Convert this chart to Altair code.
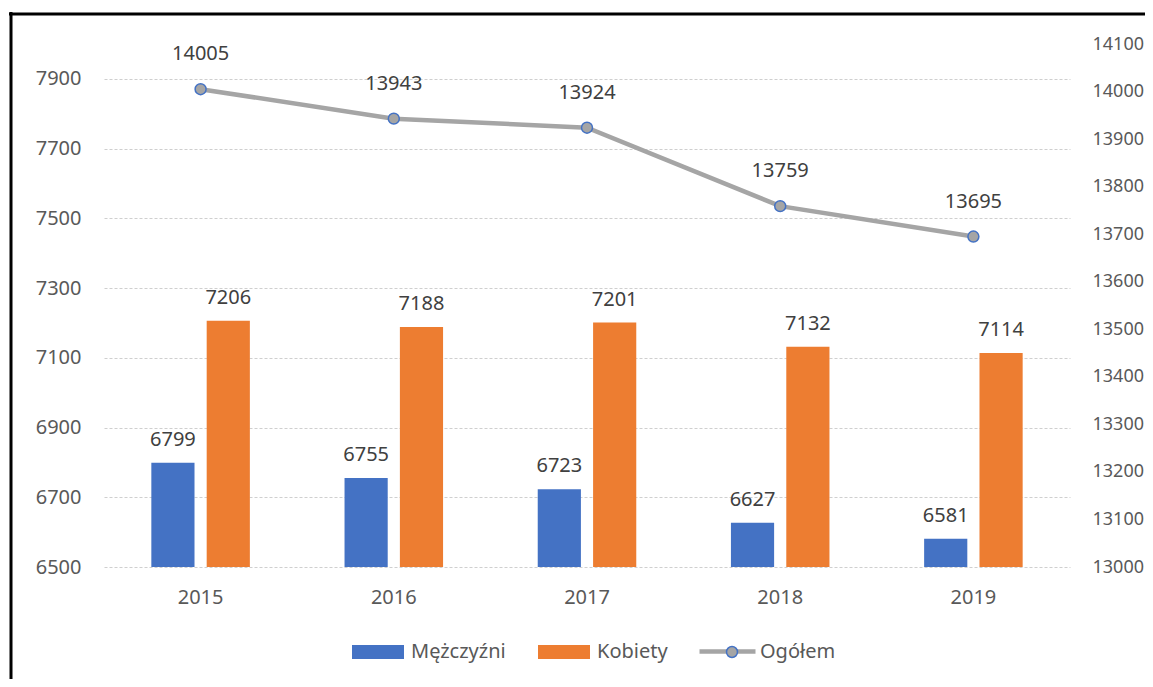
import altair as alt
import pandas as pd

years = ["2015", "2016", "2017", "2018", "2019"]
men = [6799, 6755, 6723, 6627, 6581]
women = [7206, 7188, 7201, 7132, 7114]
total = [14005, 13943, 13924, 13759, 13695]
series_names = ["Mężczyźni", "Kobiety"]
line_name = "Ogółem"
marker_key = "marker"
left_ticks = [6500, 6700, 6900, 7100, 7300, 7500, 7700, 7900]
right_ticks = [13000, 13100, 13200, 13300, 13400, 13500, 13600, 13700, 13800, 13900, 14000, 14100]

FONT = "Noto Sans"
TXT = "#595959"
LBL = "#404040"
FS = 20

bar_df = pd.DataFrame({
    "year": years * 2,
    "series": [series_names[0]] * len(years) + [series_names[1]] * len(years),
    "value": men + women,
})
line_df = pd.DataFrame({"year": years, "series": [line_name] * len(years),
                        "marker": [marker_key] * len(years), "value": total})
frame_df = pd.DataFrame({"k": [0]})

xaxis = alt.Axis(title=None, labelAngle=0, domain=False, ticks=False, labelPadding=20,
                 labelFontSize=FS, labelColor=TXT, labelFont=FONT)
xenc = alt.X("year:N", sort=years, scale=alt.Scale(paddingInner=0.49, paddingOuter=0.245), axis=xaxis)

yleft = alt.Y("value:Q", scale=alt.Scale(domain=[6500, 8000], zero=False, nice=False),
              axis=alt.Axis(title=None, values=left_ticks, format="d", grid=True, gridColor="#cfcfcf",
                            gridDash=[3, 2], gridWidth=1, domain=False, ticks=False,
                            labelPadding=23, labelFontSize=FS, labelColor=TXT, labelFont=FONT,
                            labelFlush=False))
yright = alt.Y("value:Q", scale=alt.Scale(domain=[13000, 14100], zero=False, nice=False),
               axis=alt.Axis(title=None, orient="right", values=right_ticks, format="d", grid=False,
                             domain=False, ticks=False, labelPadding=22, labelFontSize=18,
                             labelColor=TXT, labelFont=FONT, labelFlush=False))

xoff = alt.XOffset("series:N", sort=series_names, scale=alt.Scale(paddingInner=0.22, paddingOuter=0))

bars = alt.Chart(bar_df).mark_bar().encode(
    x=xenc,
    xOffset=xoff,
    y=yleft,
    y2=alt.datum(6500),
    color=alt.Color("series:N", sort=series_names,
                    scale=alt.Scale(domain=series_names, range=["#4472C4", "#ED7D31"]),
                    legend=alt.Legend(title=None, orient="none", legendX=248, legendY=582,
                                      direction="horizontal", symbolType="M-1,-0.27H1V0.27H-1Z",
                                      symbolSize=2704, symbolStrokeWidth=0, symbolOpacity=1,
                                      labelFontSize=FS, labelColor=TXT, labelFont=FONT,
                                      labelOffset=7, columnPadding=32, padding=0)),
)
bar_text = alt.Chart(bar_df).mark_text(dy=-17, baseline="alphabetic", fontSize=FS, font=FONT,
                                       color=LBL).encode(
    x=xenc, xOffset=xoff, y=yleft, text=alt.Text("value:Q", format="d"))

frame_left = alt.Chart(frame_df).mark_rule(color="black", strokeWidth=3).encode(
    x=alt.value(-93), y=alt.value(-32), y2=alt.value(690))
frame_top = alt.Chart(frame_df).mark_rule(color="black", strokeWidth=3).encode(
    x=alt.value(-95), x2=alt.value(1060), y=alt.value(-30))

line = alt.Chart(line_df).mark_line(strokeWidth=4.5).encode(
    x=xenc, y=yright,
    stroke=alt.Stroke("series:N", scale=alt.Scale(domain=[line_name], range=["#A5A5A5"]),
                      legend=alt.Legend(title=None, orient="none", legendX=593, legendY=577,
                                        symbolType="M-1,0H1", symbolSize=3136, symbolStrokeWidth=4.5,
                                        labelFontSize=FS, labelColor=TXT, labelFont=FONT,
                                        labelOffset=2, padding=0)),
)
points = alt.Chart(line_df).mark_circle(size=120, opacity=1, stroke="#4472C4", strokeWidth=1.5).encode(
    x=xenc, y=yright,
    fill=alt.Fill("marker:N", scale=alt.Scale(domain=[marker_key], range=["#A5A5A5"]),
                  legend=alt.Legend(title=None, orient="none", legendX=618, legendY=598,
                                    symbolType="circle", symbolSize=120, symbolStrokeColor="#4472C4",
                                    symbolStrokeWidth=1.5, symbolOpacity=1, labelExpr="''",
                                    labelFontSize=FS, padding=0)),
)
line_text = alt.Chart(line_df).mark_text(dy=-29, baseline="alphabetic", fontSize=FS, font=FONT,
                                         color=LBL).encode(
    x=xenc, y=yright, text=alt.Text("value:Q", format="d"))

left = alt.layer(bars, bar_text, frame_left, frame_top)
right = alt.layer(line, points, line_text)

chart = alt.layer(left, right).resolve_scale(y="independent").properties(
    width=966, height=523,
    padding={"left": 96, "top": 36, "right": 75, "bottom": 112},
    autosize=alt.AutoSizeParams(type="none"),
    background="white",
).configure_view(stroke=None)

chart.save("out.html", embed_options={"renderer": "svg", "actions": False})
